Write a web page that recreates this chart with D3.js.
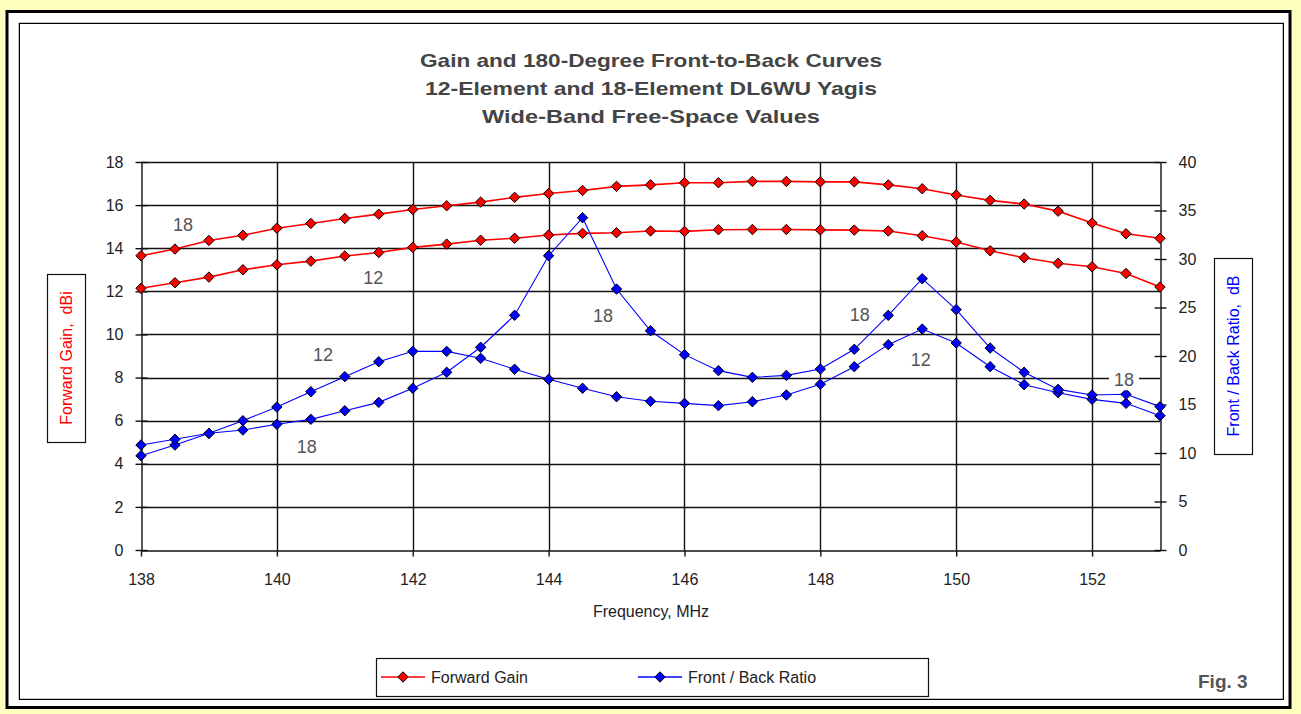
<!DOCTYPE html>
<html><head><meta charset="utf-8">
<script src="https://cdn.jsdelivr.net/npm/d3@7"></script>
<style>html,body{margin:0;padding:0;background:#FFFFC0;}svg{display:block;}</style>
</head><body>
<script>
const freqs = [138,138.5,139,139.5,140,140.5,141,141.5,142,142.5,143,143.5,144,144.5,145,145.5,146,146.5,147,147.5,148,148.5,149,149.5,150,150.5,151,151.5,152,152.5,153];
const gain18 = [13.65,13.96,14.36,14.6,14.93,15.15,15.38,15.58,15.8,15.97,16.14,16.36,16.54,16.68,16.87,16.94,17.04,17.04,17.1,17.1,17.08,17.08,16.94,16.76,16.47,16.22,16.05,15.72,15.17,14.67,14.46];
const gain12 = [12.14,12.4,12.66,13.0,13.23,13.4,13.64,13.8,14.04,14.19,14.37,14.46,14.61,14.69,14.72,14.8,14.78,14.86,14.87,14.87,14.85,14.84,14.8,14.58,14.29,13.88,13.56,13.3,13.14,12.83,12.2];
const fb12 = [9.72,10.82,12.03,13.33,14.74,16.32,17.87,19.41,20.48,20.48,19.76,18.63,17.6,16.67,15.8,15.33,15.12,14.88,15.29,15.98,17.08,18.9,21.17,22.78,21.34,18.9,17.04,16.22,15.53,15.12,13.85];
const fb18 = [10.82,11.41,12.03,12.37,12.96,13.47,14.36,15.22,16.67,18.32,20.9,24.2,30.34,34.26,26.9,22.6,20.14,18.49,17.8,18.0,18.66,20.69,24.19,27.97,24.78,20.82,18.32,16.56,15.98,16.05,14.78];
const xTicks = [138,140,142,144,146,148,150,152];
const yLeftTicks = [0,2,4,6,8,10,12,14,16,18];
const yRightTicks = [0,5,10,15,20,25,30,35,40];
const titleLines = ["Gain and 180-Degree Front-to-Back Curves","12-Element and 18-Element DL6WU Yagis","Wide-Band Free-Space Values"];
const curveLabels = [
  {text:"18", f:138.62, v:15.1, axis:"L"},
  {text:"12", f:141.42, v:12.6, axis:"L"},
  {text:"12", f:140.68, v:20.1, axis:"R"},
  {text:"18", f:140.44, v:10.6, axis:"R"},
  {text:"18", f:144.8, v:24.15, axis:"R"},
  {text:"18", f:148.58, v:24.2, axis:"R"},
  {text:"12", f:149.48, v:19.6, axis:"R"},
  {text:"18", f:152.47, v:17.5, axis:"R", bg:true}
];

const W=1301,H=714;
const svg=d3.select("body").append("svg").attr("width",W).attr("height",H);
svg.append("rect").attr("width",W).attr("height",H).attr("fill","#FFFFC0");
// outer frame
svg.append("rect").attr("x",7).attr("y",11.5).attr("width",1283).attr("height",696).attr("fill","#fff").attr("stroke","#000").attr("stroke-width",3);
svg.append("rect").attr("x",19).attr("y",23).attr("width",1264).attr("height",676).attr("fill","#fff").attr("stroke","#888").attr("stroke-width",1);
svg.append("rect").attr("x",19.5).attr("y",23.5).attr("width",1264).attr("height",676).attr("fill","none").attr("stroke","#000").attr("stroke-width",1);

const font="'Liberation Sans', Arial, sans-serif";
const x=d3.scaleLinear().domain([138,153]).range([141,1160]);
const yL=d3.scaleLinear().domain([0,18]).range([550,162]);
const yR=d3.scaleLinear().domain([0,40]).range([550,162]);

// title
svg.append("g").selectAll("text").data(titleLines).join("text")
  .attr("x",651).attr("y",(d,i)=>67+i*28).attr("text-anchor","middle")
  .attr("font-family",font).attr("font-weight","bold").attr("font-size",19)
  .attr("fill","#444").text(d=>d)
  .attr("textLength",(d,i)=>[462,452,338][i]).attr("lengthAdjust","spacingAndGlyphs");

// grid
const grid=svg.append("g");
grid.selectAll(".hg").data(yLeftTicks.filter(d=>d>0)).join("line")
  .attr("x1",141).attr("x2",1160).attr("y1",d=>Math.round(yL(d))+0.5).attr("y2",d=>Math.round(yL(d))+0.5)
  .attr("stroke","#111").attr("stroke-width",1.4);
grid.selectAll(".vg").data(xTicks.filter(d=>d>138)).join("line")
  .attr("y1",162).attr("y2",550).attr("x1",d=>Math.round(x(d))+0.5).attr("x2",d=>Math.round(x(d))+0.5)
  .attr("stroke","#111").attr("stroke-width",1.4);

// axes
const axL=d3.axisLeft(yL).tickValues(yLeftTicks).tickSizeInner(6).tickSizeOuter(0).tickPadding(12);
const gL=svg.append("g").attr("transform","translate(141.5,0)").call(axL);
const axR=d3.axisRight(yR).tickValues(yRightTicks).tickSizeInner(6).tickSizeOuter(0).tickPadding(12);
const gR=svg.append("g").attr("transform","translate(1160.5,0)").call(axR);
const axB=d3.axisBottom(x).tickValues(xTicks).tickSizeInner(6).tickSizeOuter(0).tickPadding(17);
const gB=svg.append("g").attr("transform","translate(0,550.5)").call(axB);
[gL,gR,gB].forEach(g=>{
  g.select(".domain").attr("stroke","#111").attr("stroke-width",1.4);
  g.selectAll(".tick line").attr("stroke","#111").attr("stroke-width",1.4);
  g.selectAll(".tick text").attr("font-family",font).attr("font-size",16).attr("fill","#222");
});
gL.selectAll(".tick line").attr("x1",6);
gR.selectAll(".tick line").attr("x1",-6);
gB.selectAll(".tick line").attr("y1",0);

// axis titles
svg.append("text").attr("x",651).attr("y",617).attr("text-anchor","middle")
  .attr("font-family",font).attr("font-size",16).attr("fill","#222").text("Frequency, MHz");
svg.append("rect").attr("x",47.5).attr("y",274.5).attr("width",38).attr("height",168).attr("fill","#fff").attr("stroke","#111").attr("stroke-width",1.2);
svg.append("text").attr("transform","translate(72,358) rotate(-90)").attr("text-anchor","middle")
  .attr("font-family",font).attr("font-size",16).attr("fill","#f00").attr("xml:space","preserve").text("Forward Gain,  dBi");
svg.append("rect").attr("x",1214.5).attr("y",258.5).attr("width",38).attr("height",196).attr("fill","#fff").attr("stroke","#111").attr("stroke-width",1.2);
svg.append("text").attr("transform","translate(1239,356) rotate(-90)").attr("text-anchor","middle")
  .attr("font-family",font).attr("font-size",16).attr("fill","#00f").attr("xml:space","preserve").text("Front / Back Ratio,  dB");

// series
const r=5.2;
const diamondPath=`M0,${-r}L${r},0L0,${r}L${-r},0Z`;
function series(vals,scale,color,lw){
  const pts=freqs.map((f,i)=>[x(f),scale(vals[i])]);
  svg.append("path").attr("d",d3.line()(pts)).attr("fill","none").attr("stroke",color).attr("stroke-width",lw);
  svg.append("g").selectAll("path").data(pts).join("path").attr("d",diamondPath)
    .attr("transform",d=>`translate(${d[0]},${d[1]})`).attr("fill",color).attr("stroke","#000").attr("stroke-width",1);
}
series(gain18,yL,"#ff0000",1.6);
series(gain12,yL,"#ff0000",1.6);
series(fb12,yR,"#0000ff",1.1);
series(fb18,yR,"#0000ff",1.1);

// curve labels
curveLabels.forEach(c=>{
  const px=x(c.f), py=(c.axis==="L"?yL:yR)(c.v);
  if(c.bg) svg.append("rect").attr("x",px-15).attr("y",py-12).attr("width",30).attr("height",22).attr("fill","#fff");
  svg.append("text").attr("x",px).attr("y",py+6).attr("text-anchor","middle")
    .attr("font-family",font).attr("font-size",18).attr("fill","#555").text(c.text);
});

// legend
const lg=svg.append("g");
lg.append("rect").attr("x",376.5).attr("y",658.5).attr("width",552).attr("height",38).attr("fill","#fff").attr("stroke","#111").attr("stroke-width",1.2);
const legendItems=[{label:"Forward Gain",color:"#ff0000",x0:381},{label:"Front / Back Ratio",color:"#0000ff",x0:638}];
legendItems.forEach(it=>{
  lg.append("line").attr("x1",it.x0).attr("x2",it.x0+44).attr("y1",677).attr("y2",677).attr("stroke",it.color).attr("stroke-width",1.6);
  lg.append("path").attr("d",diamondPath).attr("transform",`translate(${it.x0+22},677)`).attr("fill",it.color).attr("stroke","#000");
  lg.append("text").attr("x",it.x0+50).attr("y",683).attr("font-family",font).attr("font-size",16).attr("fill","#222").text(it.label);
});

svg.append("text").attr("x",1198).attr("y",688).attr("font-family",font).attr("font-weight","bold").attr("font-size",19).attr("fill","#555").text("Fig. 3");
</script>
</body></html>
